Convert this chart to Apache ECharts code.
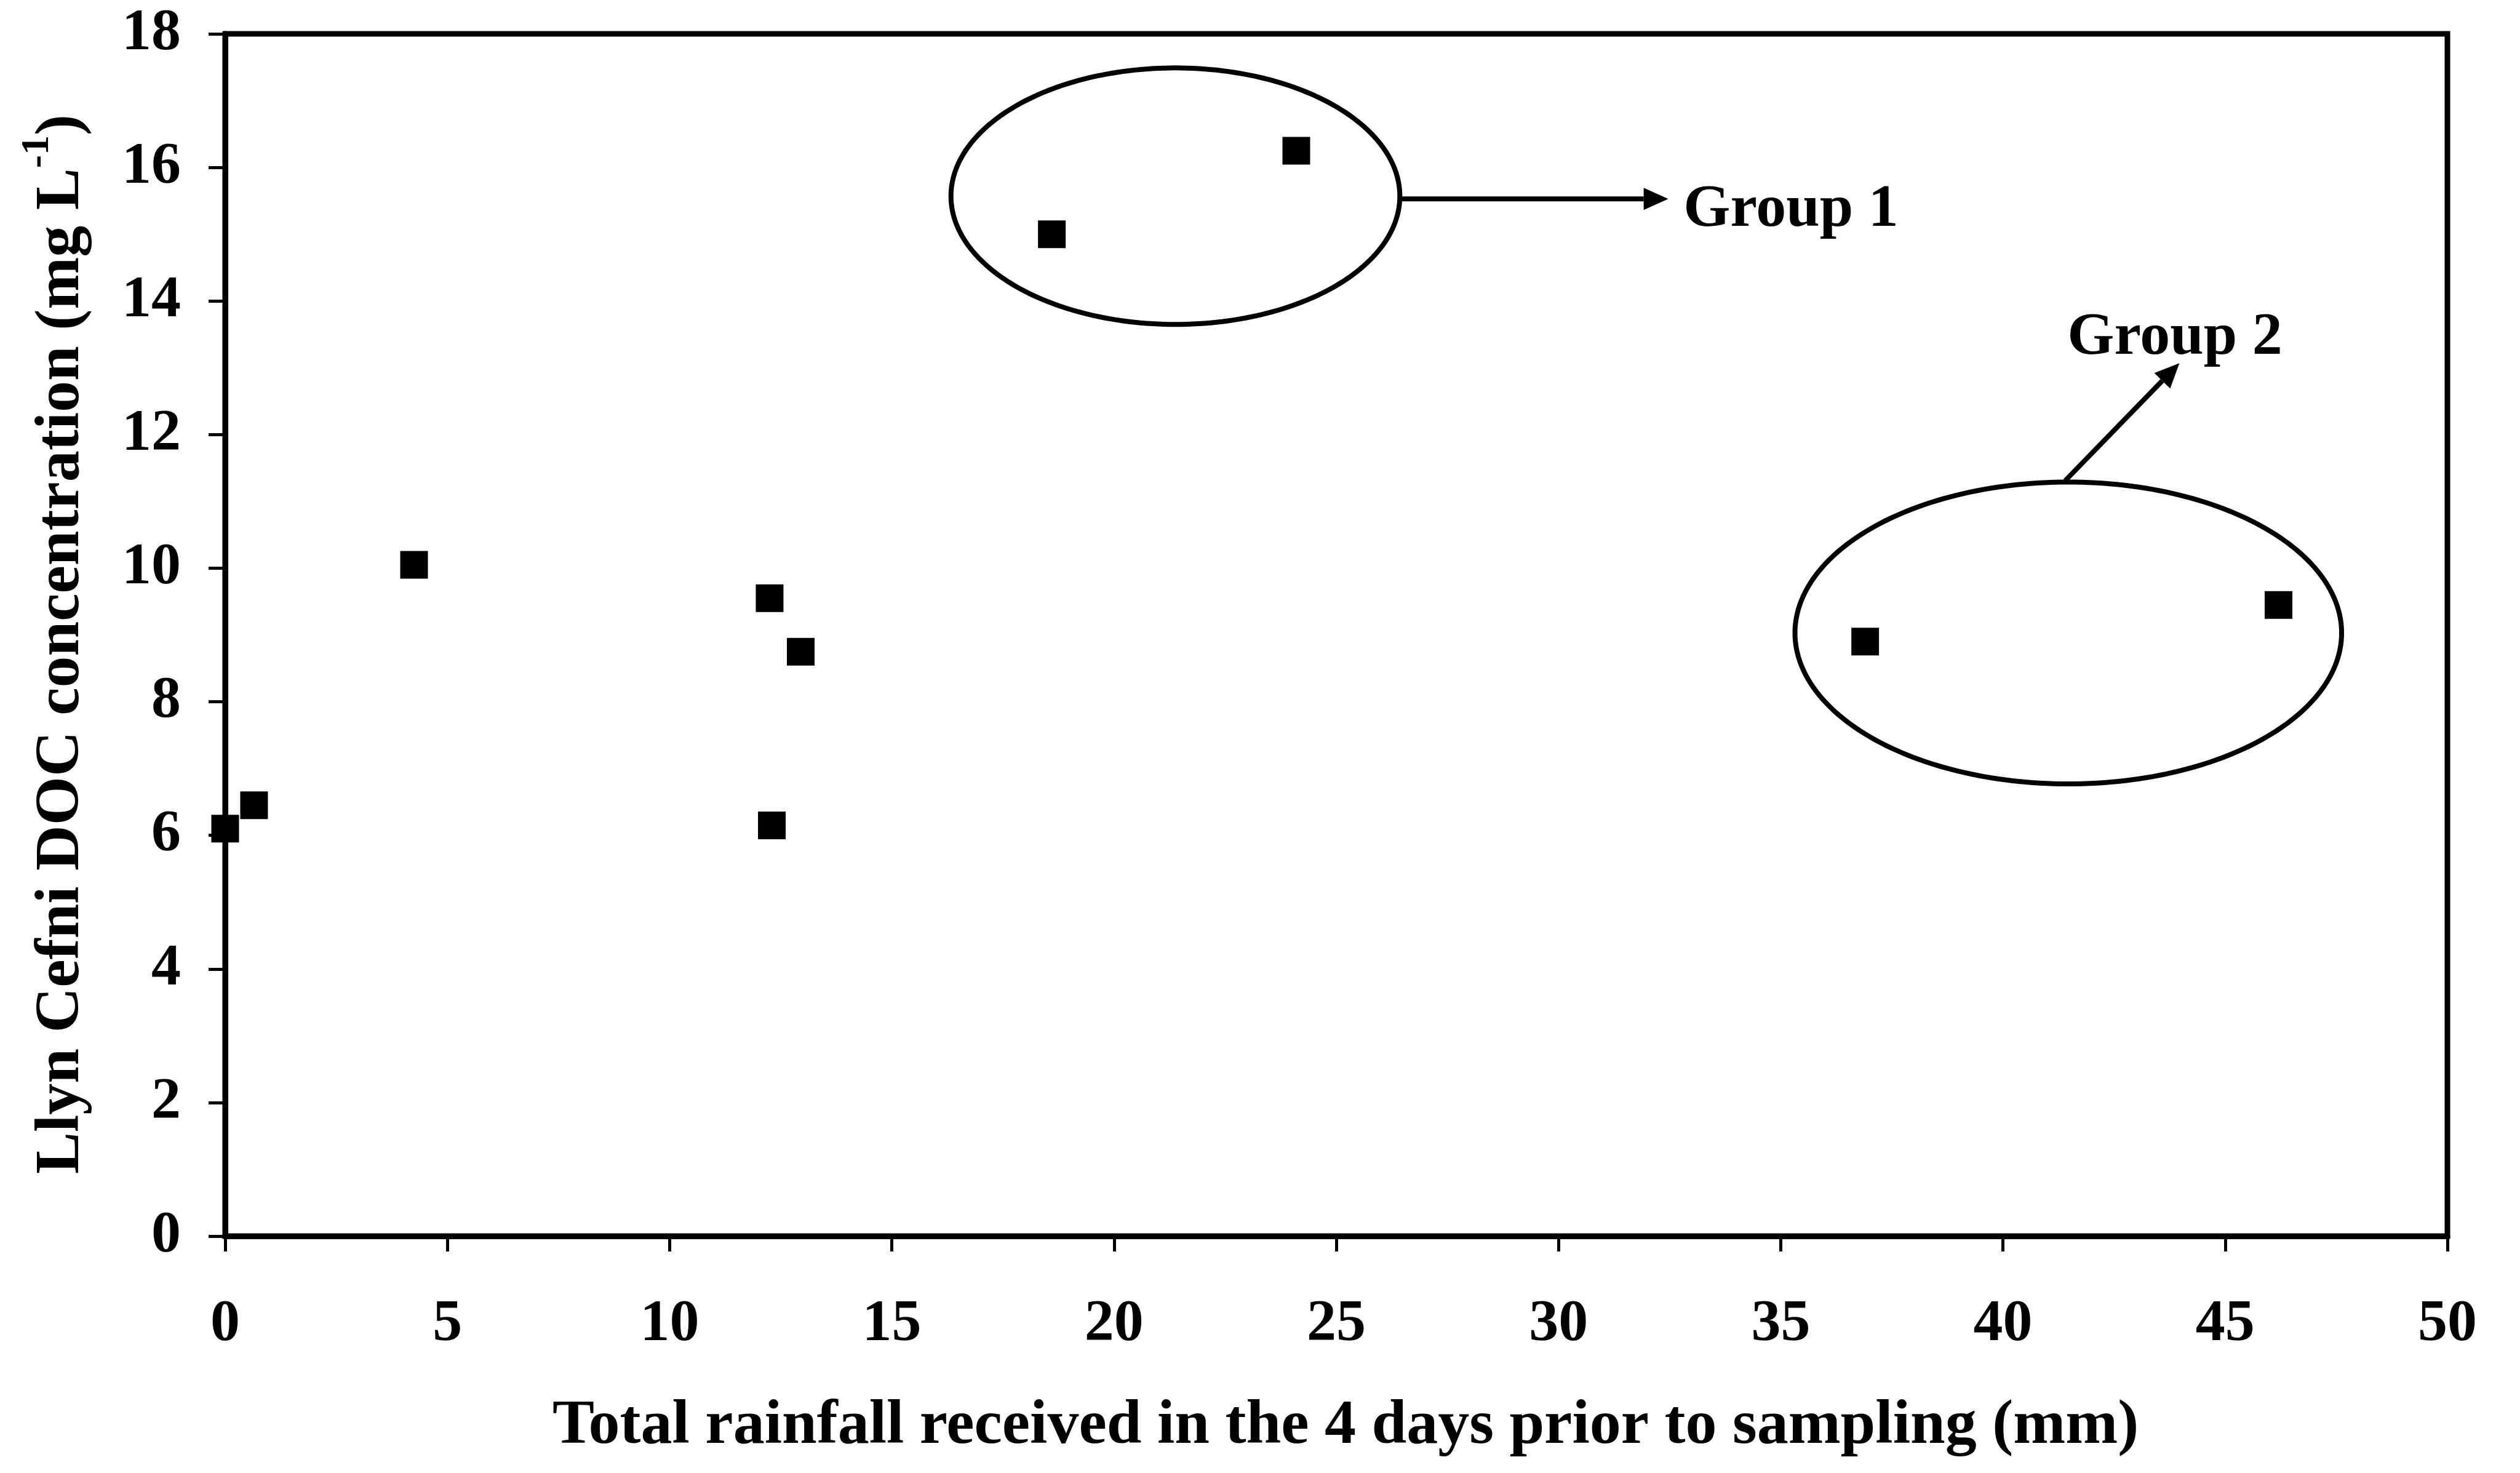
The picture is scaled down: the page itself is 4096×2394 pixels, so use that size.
<!DOCTYPE html>
<html>
<head>
<meta charset="utf-8">
<script src="https://cdn.jsdelivr.net/npm/echarts@6/dist/echarts.min.js"></script>
<style>
  html, body { margin: 0; padding: 0; background: #ffffff; }
  #chart { width: 4096px; height: 2394px; }
</style>
</head>
<body>
<div id="chart"></div>
<script>
// Rainfall over the 4 days before each sampling date (mm)
const rainfall = [0, 0.65, 4.25, 12.25, 12.95, 12.3, 18.6, 24.1, 36.9, 46.2];
// Llyn Cefni DOC concentration on that date (mg/L)
const docConc = [6.1, 6.45, 10.05, 9.55, 8.75, 6.15, 15.0, 16.25, 8.9, 9.45];

// Axis tick values
const xTicks = [0, 5, 10, 15, 20, 25, 30, 35, 40, 45, 50];
const yTicks = [0, 2, 4, 6, 8, 10, 12, 14, 16, 18];

// Group annotations, in data units
const groupNames = ['Group 1', 'Group 2'];
const groupCentres = [[21.38, 15.57], [41.47, 9.03]];
const groupHalfAxes = [[5.05, 1.92], [6.15, 2.26]];
const arrowStarts = [[26.43, 15.53], [41.40, 11.31]];
const arrowEnds = [[32.47, 15.53], [43.97, 13.07]];
const groupLabelAt = [[32.81, 15.36], [41.45, 13.44]];

const FONT = 'Liberation Serif';
const INK = '#000000';

const points = rainfall.map((r, i) => [r, docConc[i]]);
const ellipseData = groupCentres.map((c, i) => [c[0], c[1], groupHalfAxes[i][0], groupHalfAxes[i][1]]);
const arrowData = arrowStarts.map((s, i) => [s[0], s[1], arrowEnds[i][0], arrowEnds[i][1]]);
const labelData = groupLabelAt.map((p, i) => [p[0], p[1], i]);

function drawEllipse(params, api) {
  const c = api.coord([api.value(0), api.value(1)]);
  const s = api.size([api.value(2), api.value(3)]);
  const pts = [];
  const n = 240;
  for (let k = 0; k < n; k++) {
    const t = 2 * Math.PI * k / n;
    pts.push([c[0] + s[0] * Math.cos(t), c[1] + s[1] * Math.sin(t)]);
  }
  return {
    type: 'polygon',
    shape: { points: pts },
    style: { fill: 'none', stroke: INK, lineWidth: 8 }
  };
}

function drawArrow(params, api) {
  const a = api.coord([api.value(0), api.value(1)]);
  const b = api.coord([api.value(2), api.value(3)]);
  const ang = Math.atan2(b[1] - a[1], b[0] - a[0]);
  const headLen = 40, headHalf = 18;
  const base = [b[0] - headLen * Math.cos(ang), b[1] - headLen * Math.sin(ang)];
  const left = [base[0] + headHalf * Math.sin(ang), base[1] - headHalf * Math.cos(ang)];
  const right = [base[0] - headHalf * Math.sin(ang), base[1] + headHalf * Math.cos(ang)];
  return {
    type: 'group',
    children: [
      { type: 'line', shape: { x1: a[0], y1: a[1], x2: base[0], y2: base[1] },
        style: { stroke: INK, lineWidth: 8 } },
      { type: 'polygon', shape: { points: [b, left, right] }, style: { fill: INK } }
    ]
  };
}

function drawGroupLabel(params, api) {
  const p = api.coord([api.value(0), api.value(1)]);
  return {
    type: 'text',
    x: p[0],
    y: p[1],
    style: {
      text: groupNames[api.value(2)],
      fontFamily: FONT,
      fontWeight: 'bold',
      fontSize: 98,
      fill: INK,
      align: 'left',
      verticalAlign: 'middle'
    }
  };
}

const chart = echarts.init(document.getElementById('chart'), null, { renderer: 'canvas' });

chart.setOption({
  animation: false,
  backgroundColor: '#ffffff',
  grid: {
    left: 366, right: 118, top: 55, bottom: 385,
    show: true, borderColor: INK, borderWidth: 9, backgroundColor: 'transparent'
  },
  xAxis: {
    type: 'value',
    min: xTicks[0],
    max: xTicks[xTicks.length - 1],
    interval: xTicks[1] - xTicks[0],
    name: 'Total rainfall received in the 4 days prior to sampling (mm)',
    nameLocation: 'middle',
    nameGap: 259,
    nameTextStyle: {
      fontFamily: FONT, fontWeight: 'bold', fontSize: 102, color: INK,
      padding: [0, 0, 0, 30]
    },
    axisLine: { show: true, onZero: false, lineStyle: { color: INK, width: 9 } },
    axisTick: { show: true, inside: false, length: 25, lineStyle: { color: INK, width: 5 } },
    axisLabel: {
      fontFamily: FONT, fontWeight: 'bold', fontSize: 96, color: INK, margin: 96,
      showMinLabel: true, showMaxLabel: true
    },
    splitLine: { show: false }
  },
  yAxis: {
    type: 'value',
    min: yTicks[0],
    max: yTicks[yTicks.length - 1],
    interval: yTicks[1] - yTicks[0],
    name: '{a|Llyn Cefni DOC concentration (mg L}{sup|-1}{a|)}',
    nameLocation: 'middle',
    nameGap: 193,
    nameTextStyle: {
      fontFamily: FONT, fontWeight: 'bold', fontSize: 102, color: INK,
      padding: [0, 30, 0, 0],
      rich: {
        a: { fontFamily: FONT, fontWeight: 'bold', fontSize: 102, color: INK,
             lineHeight: 144, verticalAlign: 'middle' },
        sup: { fontFamily: FONT, fontWeight: 'bold', fontSize: 64, color: INK,
               verticalAlign: 'top' }
      }
    },
    axisLine: { show: true, onZero: false, lineStyle: { color: INK, width: 9 } },
    axisTick: { show: true, inside: false, length: 27, lineStyle: { color: INK, width: 5 } },
    axisLabel: {
      fontFamily: FONT, fontWeight: 'bold', fontSize: 96, color: INK, margin: 72,
      showMinLabel: true, showMaxLabel: true
    },
    splitLine: { show: false }
  },
  series: [
    {
      type: 'custom',
      name: 'group outlines',
      coordinateSystem: 'cartesian2d',
      renderItem: drawEllipse,
      data: ellipseData,
      clip: false,
      silent: true,
      z: 3
    },
    {
      type: 'custom',
      name: 'group arrows',
      coordinateSystem: 'cartesian2d',
      renderItem: drawArrow,
      data: arrowData,
      clip: false,
      silent: true,
      z: 3
    },
    {
      type: 'custom',
      name: 'group labels',
      coordinateSystem: 'cartesian2d',
      renderItem: drawGroupLabel,
      data: labelData,
      clip: false,
      silent: true,
      z: 3
    },
    {
      type: 'scatter',
      name: 'DOC',
      data: points,
      symbol: 'rect',
      symbolSize: 45,
      itemStyle: { color: INK, opacity: 1 },
      silent: true,
      z: 5
    }
  ]
});
</script>
</body>
</html>
